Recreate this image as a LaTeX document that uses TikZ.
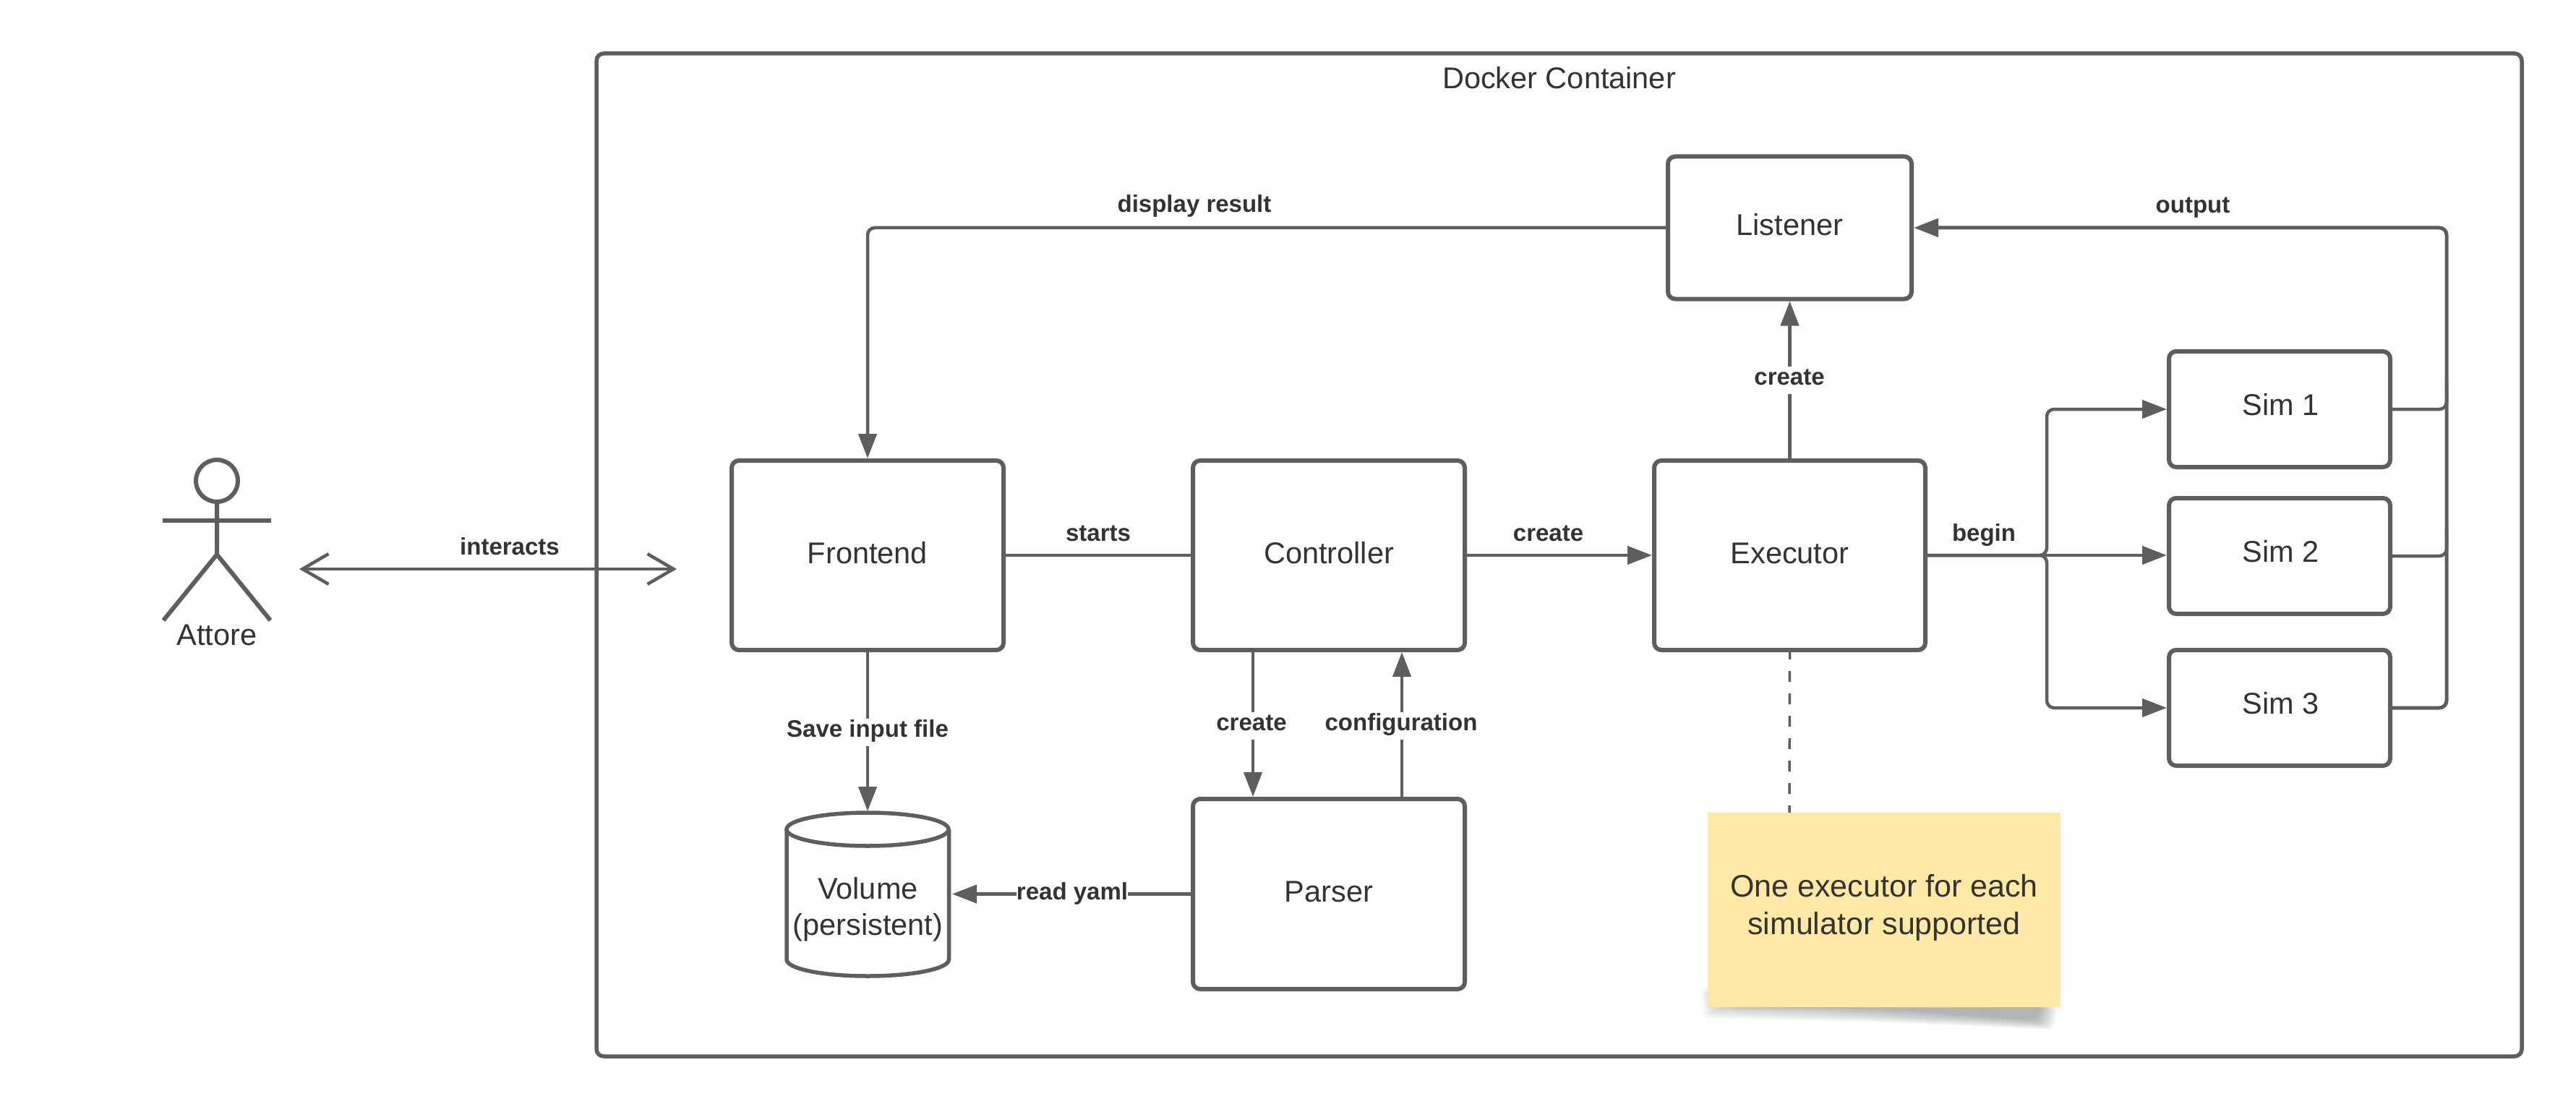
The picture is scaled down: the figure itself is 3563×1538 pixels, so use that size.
\documentclass[tikz,border=0pt]{standalone}
\usepackage{fontspec}
\setmainfont{Liberation Sans}
\usetikzlibrary{arrows.meta,calc}
\definecolor{ln}{HTML}{5E5E5E}
\definecolor{tx}{HTML}{333333}
\definecolor{noteY}{HTML}{FEE9A6}
\definecolor{noteT}{HTML}{F9E2A0}
\definecolor{shad}{HTML}{7C7C84}
\tikzset{
  x=1pt,y=-1pt,
  box/.style={draw=ln,line width=6pt,rounded corners=10pt,fill=white,text=tx,inner sep=0pt,
    font=\fontsize{41.5pt}{50pt}\selectfont,text height=30pt,text depth=8pt},
  simbox/.style={box,minimum width=306pt,minimum height=160pt,text depth=14pt},
  plain/.style={text=tx,inner sep=0pt,align=center},
  big/.style={plain,font=\fontsize{41.5pt}{50pt}\selectfont},
  lbl/.style={plain,anchor=base,fill=white,font=\fontsize{33pt}{38pt}\selectfont\bfseries,text height=25pt,text depth=13pt},
  conn/.style={draw=ln,line width=4.5pt,line join=round},
  arr/.style={conn,-{Triangle[length=34pt,width=25pt]}},
  route/.style={rounded corners=10pt}
}
\begin{document}
\begin{tikzpicture}
\useasboundingbox (0,0) rectangle (3563,1538);
\fill[white] (0,0) rectangle (3563,1538);
% container
\node[draw=ln,line width=5.5pt,rounded corners=10pt,fill=white,minimum width=2663pt,minimum height=1387pt,inner sep=0pt] (docker) at (2156.5,767.5) {};
\node[big,anchor=base] (dockerlabel) at (2156.5,123) {Docker Container};
% boxes
\node[box,minimum width=376pt,minimum height=262pt] (Frontend) at (1200,768) {Frontend};
\node[box,minimum width=376pt,minimum height=262pt] (Controller) at (1838,768) {Controller};
\node[box,minimum width=375pt,minimum height=262pt] (Executor) at (2475.5,768) {Executor};
\node[box,minimum width=376pt,minimum height=263pt] (Parser) at (1838,1236.5) {Parser};
\node[box,minimum width=337pt,minimum height=197pt] (Listener) at (2475.5,315) {Listener};
\node[simbox] (Sim1) at (3153,566) {\hspace*{3pt}Sim 1};
\node[simbox] (Sim2) at (3153,769) {\hspace*{3pt}Sim 2};
\node[simbox] (Sim3) at (3153,979) {\hspace*{3pt}Sim 3};
% volume
\draw[draw=ln,line width=5.5pt,fill=white] (1088,1147) -- (1088,1327) .. controls (1088,1340) and (1138,1350) .. (1200,1350) .. controls (1262,1350) and (1312.5,1340) .. (1312.5,1327) -- (1312.5,1147);
\draw[draw=ln,line width=5.5pt,fill=white] (1200,1147) ellipse [x radius=112pt,y radius=23pt];
\node[big] (volume) at (1200.5,1257.5) {Volume\\(persistent)};
\coordinate (voltop) at (1200,1122);
\coordinate (volright) at (1317,1236.5);
% actor
\node[draw=ln,line width=6pt,circle,minimum size=58pt,inner sep=0pt] (head) at (300,665) {};
\coordinate (hip) at (300,767);
\coordinate (armL) at (225,720);
\coordinate (armR) at (375,720);
\coordinate (footL) at (226,858);
\coordinate (footR) at (374,858);
\draw[draw=ln,line width=6pt,line join=round] (head.south) -- (hip) -- (footL);
\draw[draw=ln,line width=6pt,line join=round] (hip) -- (footR);
\draw[draw=ln,line width=6.5pt] (armL) -- (armR);
\node[big,anchor=base] (attore) at (300,892) {Attore};
% interacts
\coordinate (intL) at (414,787);
\coordinate (intR) at (936,787);
\draw[draw=ln,line width=4.5pt,{Straight Barb[length=36pt,width=42pt]}-{Straight Barb[length=36pt,width=42pt]}] (intL) -- (intR);
% connectors
\coordinate (crtx) at (1733,0);
\coordinate (cfgx) at (1939,0);
\coordinate (fork) at (2831,768);
\coordinate (rail) at (3384,315);
\coordinate (joinA) at (3384,530);
\coordinate (joinB) at (3384,730);
\draw[conn] (Frontend.east) -- (Controller.west);
\draw[arr] (Controller.east) -- (Executor.west);
\draw[arr] (Frontend.south) -- (voltop);
\draw[arr] (Controller.south -| crtx) -- (Parser.north -| crtx);
\draw[arr] (Parser.north -| cfgx) -- (Controller.south -| cfgx);
\draw[arr] (Parser.west) -- (volright);
\draw[arr] (Executor.north) -- (Listener.south);
\draw[arr,route] (Listener.west) -- (Listener.west -| Frontend.north) -- (Frontend.north);
\draw[arr,route] (Executor.east) -- (fork) -- (fork |- Sim1.west) -- (Sim1.west);
\draw[arr] (Executor.east) -- (Executor.east -| Sim2.west);
\draw[arr,route] (Executor.east) -- (fork) -- (fork |- Sim3.west) -- (Sim3.west);
\draw[conn,route] (Sim1.east) -- (Sim1.east -| joinA) -- (joinA);
\draw[conn,route] (Sim2.east) -- (Sim2.east -| joinB) -- (joinB);
\draw[arr,route,line width=5pt] (Sim3.east) -- (Sim3.east -| rail) -- (rail) -- (Listener.east);
% note
\coordinate (notetop) at (2475,1124);
\draw[draw=ln,line width=3.5pt,dash pattern=on 15pt off 16pt,dash phase=5pt] (Executor.south) -- (notetop);
\foreach \t in {0,0.0625,...,1.0}{
  \fill[shad,opacity=0.042,rounded corners=6pt] ({2352+40*\t},{1365+33*\t}) -- ({2356+45*\t},{1408-28*\t}) -- (2600,{1414-19*\t}) -- ({2840-26*\t},{1424-14*\t}) -- ({2846-24*\t},1393) -- cycle;
}
\node[fill=noteY,minimum width=488pt,minimum height=269pt,inner sep=0pt,
  path picture={\shade[top color=noteT,bottom color=noteY] (2362,1124) rectangle (2850,1205);}] (note) at (2606,1258.5) {};
\node[plain,font=\fontsize{43pt}{52pt}\selectfont] (notetext) at (2606,1255.5) {One executor for each\\simulator supported};
% labels
\node[lbl] (l1) at (705,767) {interacts};
\node[lbl] (l2) at (1519,748) {starts};
\node[lbl] (l3) at (2141.5,748) {create};
\node[lbl] (l4) at (2744,748) {begin};
\node[lbl] (l5) at (2475,532) {create};
\node[lbl] (l6) at (1652,294) {display result};
\node[lbl] (l7) at (3033,294.5) {output};
\node[lbl] (l8) at (1200,1019) {Save input file};
\node[lbl] (l9) at (1731,1010) {create};
\node[lbl] (l10) at (1938,1010) {configuration};
\node[lbl] (l11) at (1483,1244) {read yaml};
\end{tikzpicture}
\end{document}
